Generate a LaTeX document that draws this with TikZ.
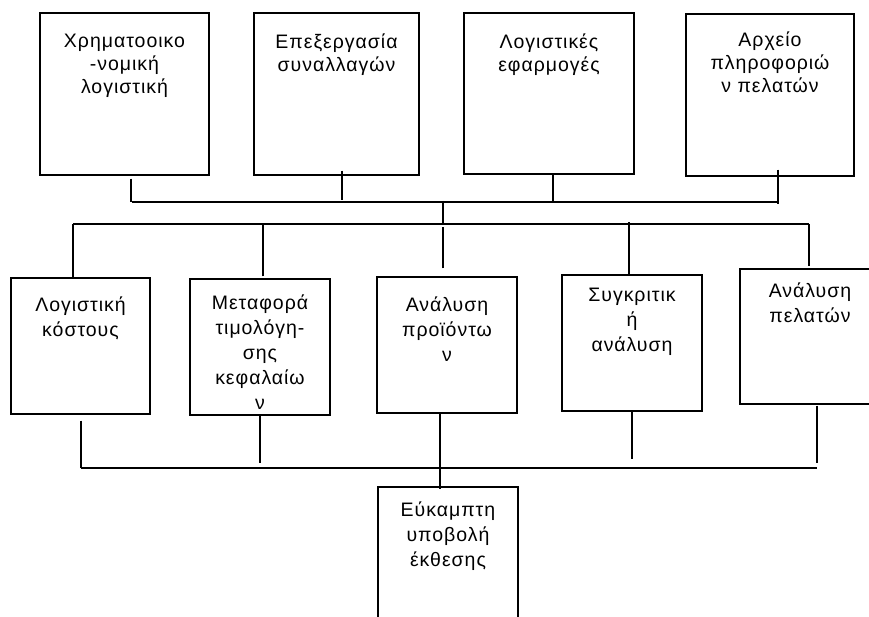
\documentclass[tikz,border=0pt]{standalone}
\usepackage{fontspec}
\setmainfont{Liberation Sans}[LetterSpace=5]
\begin{document}
\begin{tikzpicture}[x=1pt,y=-1pt,line width=1.3pt,
  box/.style={draw,line width=1.3pt,inner sep=0pt},
  txt/.style={anchor=north,inner sep=0pt,align=center,font=\fontsize{19.5}{23}\selectfont},
  txtm/.style={anchor=north,inner sep=0pt,align=center,font=\fontsize{19.5}{25}\selectfont}]
\fill[white] (0,0) rectangle (869,617);
\useasboundingbox (0,0) rectangle (869,617);
% top row
\node[box,minimum width=169pt,minimum height=162pt] (b1) at (124.5,94) {};
\node[box,minimum width=165pt,minimum height=162pt] (b2) at (336.5,94) {};
\node[box,minimum width=170pt,minimum height=161pt] (b3) at (549,93.5) {};
\node[box,minimum width=168pt,minimum height=162pt] (b4) at (770,95) {};
% middle row
\node[box,minimum width=139pt,minimum height=136pt] (b5) at (80.5,346) {};
\node[box,minimum width=140pt,minimum height=136pt] (b6) at (260,347) {};
\node[box,minimum width=140pt,minimum height=136pt] (b7) at (447,345) {};
\node[box,minimum width=140pt,minimum height=136pt] (b8) at (632,343) {};
\node[box,minimum width=140pt,minimum height=135pt] (b9) at (810,336.5) {};
% bottom
\node[box,minimum width=140pt,minimum height=136pt] (b10) at (448,555) {};
% texts
\node[txt] (t1) at ([yshift=-21pt]b1.north) {Χρηματοοικο\\-νομική\\λογιστική};
\node[txt] (t2) at ([yshift=-21pt]b2.north) {Επεξεργασία\\συναλλαγών};
\node[txt] (t3) at ([yshift=-21pt]b3.north) {Λογιστικές\\εφαρμογές};
\node[txt] (t4) at ([yshift=-18pt]b4.north) {Αρχείο\\πληροφοριώ\\ν πελατών};
\node[txtm] (t5) at ([yshift=-19pt]b5.north) {Λογιστική\\κόστους};
\node[txtm] (t6) at ([yshift=-16pt]b6.north) {Μεταφορά\\τιμολόγη-\\σης\\κεφαλαίω\\ν};
\node[txtm] (t7) at ([yshift=-20pt]b7.north) {Ανάλυση\\προϊόντω\\ν};
\node[txtm] (t8) at ([yshift=-13pt]b8.north) {Συγκριτικ\\ή\\ανάλυση};
\node[txtm] (t9) at ([yshift=-14pt]b9.north) {Ανάλυση\\πελατών};
\node[txtm] (t10) at ([yshift=-15pt]b10.north) {Εύκαμπτη\\υποβολή\\έκθεσης};
% bus coordinates
\coordinate (tb1) at (132,202);
\coordinate (tb2) at (779,202);
\coordinate (c1) at (443,201);
\coordinate (mb1) at (73,224);
\coordinate (mb2) at (809,224);
\coordinate (bb1) at (81,468);
\coordinate (bb2) at (817,468);
% top connectors
\draw ([xshift=6.5pt,yshift=-3pt]b1.south) -- ++(0,23);
\draw ([xshift=5.5pt,yshift=5pt]b2.south) -- ++(0,29);
\draw ([xshift=4pt]b3.south) -- ++(0,28);
\draw ([xshift=8pt,yshift=7pt]b4.south) -- ++(0,34);
\draw (tb1) -- (tb2);
\draw (c1) -- ++(0,23);
\draw ([xshift=-4pt,yshift=8pt]b7.north) -- ++(0,-41);
% middle bus
\draw (mb1) -- (mb2);
\draw (mb1) -- ([xshift=-7.5pt,yshift=-2pt]b5.north);
\draw ([xshift=3pt,yshift=2pt]b6.north) -- ++(0,-53);
\draw ([xshift=-3pt,yshift=-1pt]b8.north) -- ++(0,-53);
\draw (mb2) -- ([xshift=-1pt,yshift=2pt]b9.north);
% bottom connectors
\draw ([xshift=0.5pt,yshift=-6pt]b5.south) -- (bb1);
\draw (b6.south) -- ++(0,47);
\draw ([xshift=-7pt]b7.south) -- ([xshift=-8pt,yshift=-3pt]b10.north);
\draw (b8.south) -- ++(0,47);
\draw ([xshift=7pt,yshift=-1pt]b9.south) -- ++(0,57);
\draw (bb1) -- (bb2);
\end{tikzpicture}
\end{document}
